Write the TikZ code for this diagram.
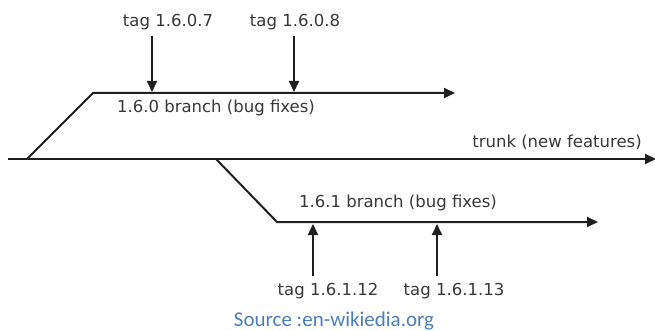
\documentclass[tikz,border=0pt]{standalone}
\usepackage{fontspec}
\setmainfont{DejaVu Sans}
\newfontfamily\srcfont{Carlito}
\usetikzlibrary{arrows.meta}
\definecolor{srcblue}{HTML}{4A7EBB}
\begin{document}
\begin{tikzpicture}[x=1pt,y=-1pt,
  line/.style={line width=2pt,draw=black!88},
  flow/.style={line, -{Triangle[length=11pt,width=10pt]}},
  lbl/.style={font=\fontsize{16.5}{16.5}\selectfont, text=black!78, inner sep=0pt},
  src/.style={font=\srcfont\fontsize{21}{21}\selectfont, text=srcblue, inner sep=0pt}]
\useasboundingbox (0,0) rectangle (655,331);

% trunk
\coordinate (trunkStart) at (8,159);
\coordinate (trunkEnd) at (656,159);
\draw[flow] (trunkStart) -- (trunkEnd);
\node[lbl] (trunkLbl) at (557,142) {trunk (new features)};

% 1.6.0 branch
\coordinate (fork60) at (27,159);
\coordinate (bend60) at (93,93);
\coordinate (end60) at (455,93);
\draw[flow] (fork60) -- (bend60) -- (end60);
\node[lbl] (lbl60) at (216,108) {1.6.0 branch (bug fixes)};

% 1.6.1 branch
\coordinate (fork61) at (216,159);
\coordinate (bend61) at (277,222);
\coordinate (end61) at (598,222);
\draw[flow] (fork61) -- (bend61) -- (end61);
\node[lbl] (lbl61) at (398,203) {1.6.1 branch (bug fixes)};

% tags on 1.6.0
\node[lbl] (t607) at (168,22) {tag 1.6.0.7};
\node[lbl] (t608) at (295,22) {tag 1.6.0.8};
\coordinate (a607) at (152,92);
\coordinate (a608) at (294,92);
\draw[flow] (a607 |- 0,36) -- (a607);
\draw[flow] (a608 |- 0,36) -- (a608);

% tags on 1.6.1
\node[lbl] (t612) at (328,291) {tag 1.6.1.12};
\node[lbl] (t613) at (454,291) {tag 1.6.1.13};
\coordinate (a612) at (313,224);
\coordinate (a613) at (437,224);
\draw[flow] (a612 |- 0,276) -- (a612);
\draw[flow] (a613 |- 0,276) -- (a613);

% source line
\node[src] (source) at (334,321) {Source :en-wikiedia.org};
\end{tikzpicture}
\end{document}
